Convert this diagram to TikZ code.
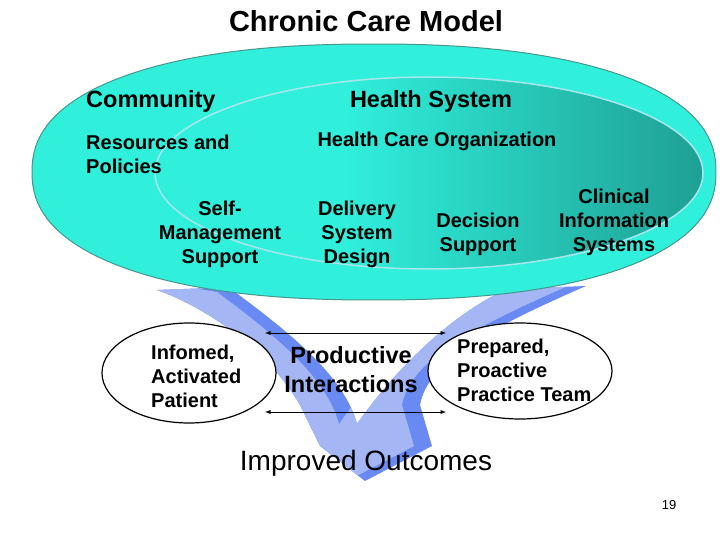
\documentclass[tikz,border=0pt]{standalone}
\usepackage{fontspec}
\setmainfont{Liberation Sans}
\usepackage{xcolor}
\usepackage{tikz}
\usetikzlibrary{positioning,shapes.geometric,arrows}

\definecolor{ccmcyan}{RGB}{48,240,220}
\definecolor{ccmteal}{RGB}{30,160,148}
\definecolor{ccmrim}{RGB}{72,150,140}
\definecolor{ccmpale}{RGB}{168,230,238}
\definecolor{vlight}{RGB}{164,182,244}
\definecolor{vdark}{RGB}{104,138,242}

\pgfdeclarehorizontalshading{orgshade}{100bp}{color(0bp)=(ccmcyan); color(25bp)=(ccmcyan); color(42bp)=(ccmcyan); color(75bp)=(ccmteal); color(100bp)=(ccmteal)}

% outline of the check mark behind the model
\newcommand{\checkshape}{(157,290) -- (210,288) -- (235,292)
  .. controls (300,340) and (345,380) .. (357,424)
  .. controls (395,370) and (450,315) .. (507,289) -- (586,286)
  .. controls (485,330) and (428,362) .. (420,405) -- (432,446) -- (365,481)
  -- (320,446) -- (300,405) .. controls (265,345) and (200,305) .. (157,290) -- cycle}

\begin{document}
\begin{tikzpicture}[
  x=1pt, y=-1pt,
  every node/.style={inner sep=0pt, text=black},
  title/.style={font=\fontsize{29}{34}\selectfont\bfseries},
  head/.style={font=\fontsize{23.5}{29}\selectfont\bfseries},
  body/.style={font=\fontsize{20}{24}\selectfont\bfseries},
  pill/.style={ellipse, draw, line width=1.2pt, fill=white, minimum width=174pt, minimum height=100pt},
  link/.style={latex-latex, line width=0.9pt}
]
\useasboundingbox (0,0) rectangle (720,540);

% check mark
\fill[vdark] \checkshape;
\begin{scope}
  \clip \checkshape;
  \fill[vlight, xshift=-18pt] \checkshape;
\end{scope}

% community (a slightly full ellipse) and health system
\filldraw[fill=ccmcyan, draw=ccmrim, line width=1pt]
  plot[domain=1.25:358.75, samples=144, variable=\t]
  ({374+342*cos(\t)*abs(cos(\t))^(-0.13)}, {172+128*sin(\t)*abs(sin(\t))^(-0.13)}) -- cycle;
\path[shading=orgshade, draw=ccmpale, line width=1.5pt] (429,173) ellipse [x radius=274pt, y radius=96pt];

\node[title, anchor=base] (title) at (366,32) {Chronic Care Model};
\node[head, anchor=base west] (community) at (86,108) {Community};
\node[head, anchor=base] (health) at (431,108) {Health System};
\node[body, align=left, anchor=north west] (resources) at (86,134.4) {Resources and\\Policies};
\node[body, anchor=base] (hco) at (437,147) {Health Care Organization};
\node[body, align=center, anchor=north] (selfmgmt) at (220,200.4) {Self-\\Management\\Support};
\node[body, align=center, anchor=north] (delivery) at (357,200.4) {Delivery\\System\\Design};
\node[body, align=center, anchor=north] (decision) at (478,212.4) {Decision\\Support};
\node[body, align=center, anchor=north] (clinical) at (614,188.4) {Clinical\\Information\\Systems};

% patient and team
\node[pill] (patient) at (189,373) {};
\node[pill, minimum width=184pt, minimum height=96pt] (team) at (520,371) {};
\node[body, align=left, anchor=north west] (patienttxt) at (151,344.4) {Infomed,\\Activated\\Patient};
\node[body, align=left, anchor=north west] (teamtxt) at (457,338.4) {Prepared,\\Proactive\\Practice Team};
\node[head, align=center, anchor=north] (interact) at (351,346.3) {Productive\\Interactions};

\coordinate (up1) at (265,333);
\coordinate (up2) at (446,333);
\coordinate (lo1) at (265,412);
\coordinate (lo2) at (446,412);
\draw[link] (up1) -- (up2);
\draw[link] (lo1) -- (lo2);

\node[font=\fontsize{28}{32}\selectfont, anchor=base] (outcomes) at (366,470) {Improved Outcomes};
\node[font=\fontsize{13}{15}\selectfont, anchor=base] (slide) at (669,509) {19};
\end{tikzpicture}
\end{document}
